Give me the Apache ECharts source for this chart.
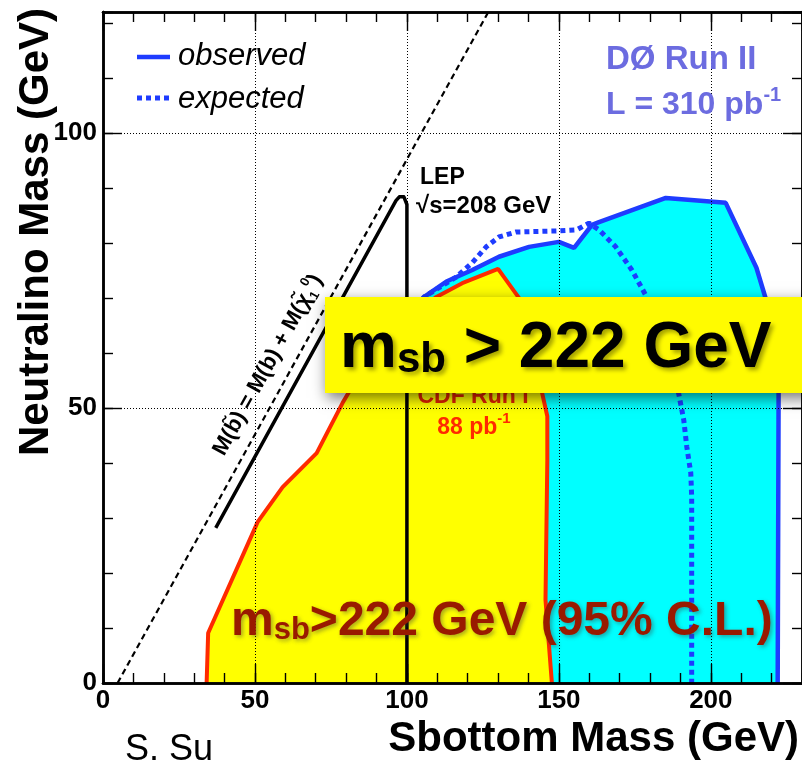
<!DOCTYPE html>
<html>
<head>
<meta charset="utf-8">
<script src="https://cdn.jsdelivr.net/npm/echarts@6/dist/echarts.min.js"></script>
<style>
  html, body { margin: 0; padding: 0; background: #ffffff; }
  #chart { width: 802px; height: 767px; }
</style>
</head>
<body>
<div id="chart"></div>
<script>
// Axis ranges and tick steps (GeV)
const xRange = [0, 230];
const yRange = [0, 122];
const majorStep = 50;
const minorStep = 10;

// LEP kinematic limit, sqrt(s) = 208 GeV  [sbottom mass, neutralino mass]
const lepLimit = [[37.1, 28.2], [96.4, 87.7], [97.5, 88.4], [99.0, 88.4], [100.0, 87.0], [100.0, 0.0]];

// M(sbottom) = M(b) + M(neutralino)
const kinematicEdge = [[4.8, 0], [126.8, 122]];

// CDF Run I excluded region (88 pb^-1)
const cdfRun1 = [
  [34.1, 0.0], [34.6, 9.1], [50.9, 29.3], [59.1, 35.6], [70.3, 41.8], [78.8, 50.9],
  [88.0, 59.5], [100.0, 65.8], [109.7, 70.2], [118.2, 72.7], [130.0, 75.3], [139.0, 68.4],
  [144.5, 52.7], [146.2, 48.5], [146.2, 40.5], [145.6, 15.1], [147.7, 0.0]
];

// DØ Run II observed limit (310 pb^-1)
const d0Observed = [
  [100.0, 66.5], [105.7, 70.2], [113.0, 73.0], [121.5, 75.1], [130.3, 77.5], [140.2, 79.3],
  [150.0, 80.2], [155.0, 79.1], [160.9, 83.3], [163.2, 83.8], [185.2, 88.2], [204.9, 87.3],
  [215.0, 75.5], [218.0, 70.0], [222.3, 52.7], [222.0, 0.0]
];

// DØ Run II expected limit
const d0Expected = [
  [103.0, 68.5], [105.7, 70.2], [116.2, 73.8], [121.5, 76.4], [126.1, 79.3], [130.3, 81.1],
  [135.9, 82.0], [150.0, 82.2], [155.9, 82.4], [159.9, 83.6], [163.2, 82.4], [168.7, 79.3],
  [174.0, 75.1], [178.9, 70.2], [189.4, 52.7], [191.1, 47.8], [192.1, 42.9], [193.4, 38.2],
  [193.7, 33.8], [193.7, 0.0]
];

const FONT = '"Liberation Sans", Arial, Helvetica, sans-serif';
const BLUE = '#1e3cff';
const RED = '#ff2a00';
const DARKRED = '#991a00';
const D0 = '#6c6ce0';

function makeAxis(kind, position, step, tickLen, withLabels, withGrid, range) {
  return {
    type: 'value',
    position: position,
    min: range[0],
    max: range[1],
    interval: step,
    z: 10,
    axisLine: { show: true, onZero: false, lineStyle: { color: '#000', width: 2.5 } },
    axisTick: { show: true, inside: true, length: tickLen, lineStyle: { color: '#000', width: 1.4 } },
    axisLabel: {
      show: withLabels,
      showMaxLabel: false,
      margin: kind === 'x' ? 5 : 6,
      color: '#000',
      fontFamily: FONT,
      fontWeight: 'bold',
      fontSize: 26
    },
    splitLine: { show: withGrid, lineStyle: { color: '#000', width: 1, type: [1, 2] } },
    splitArea: { show: false }
  };
}

const chart = echarts.init(document.getElementById('chart'), null, { renderer: 'canvas' });

const shadowText = (color, font, lh, sc, sx) => ({
  font: font, fill: color, verticalAlign: 'bottom', lineHeight: lh,
  textShadowColor: sc, textShadowBlur: 4, textShadowOffsetX: sx, textShadowOffsetY: sx
});

const option = {
  animation: false,
  backgroundColor: '#ffffff',
  grid: { left: 103, top: 12, width: 700, height: 671, containLabel: false },
  xAxis: [
    makeAxis('x', 'bottom', majorStep, 19, true, true, xRange),
    makeAxis('x', 'bottom', minorStep, 10, false, false, xRange),
    makeAxis('x', 'top', majorStep, 19, false, false, xRange),
    makeAxis('x', 'top', minorStep, 10, false, false, xRange)
  ],
  yAxis: [
    makeAxis('y', 'left', majorStep, 19, true, true, yRange),
    makeAxis('y', 'left', minorStep, 10, false, false, yRange),
    makeAxis('y', 'right', majorStep, 19, false, false, yRange),
    makeAxis('y', 'right', minorStep, 10, false, false, yRange)
  ],
  series: [
    {
      name: 'observed', type: 'line', data: d0Observed, xAxisIndex: 0, yAxisIndex: 0,
      symbol: 'none', z: 2, silent: true,
      lineStyle: { color: BLUE, width: 4.5 },
      areaStyle: { color: '#00ffff', opacity: 1, origin: 'start' }
    },
    {
      name: 'expected', type: 'line', data: d0Expected, xAxisIndex: 0, yAxisIndex: 0,
      symbol: 'none', z: 3, silent: true,
      lineStyle: { color: BLUE, width: 5, type: [5, 4], cap: 'butt' }
    },
    {
      name: 'CDF Run I', type: 'line', data: cdfRun1, xAxisIndex: 0, yAxisIndex: 0,
      symbol: 'none', z: 4, silent: true,
      lineStyle: { color: RED, width: 4 },
      areaStyle: { color: '#ffff00', opacity: 1, origin: 'start' }
    },
    {
      name: 'LEP', type: 'line', data: lepLimit, xAxisIndex: 0, yAxisIndex: 0,
      symbol: 'none', z: 5, silent: true,
      lineStyle: { color: '#000', width: 3.5, join: 'round' }
    },
    {
      name: 'kinematic', type: 'line', data: kinematicEdge, xAxisIndex: 0, yAxisIndex: 0,
      symbol: 'none', z: 5, silent: true,
      lineStyle: { color: '#000', width: 2.2, type: [6, 4] }
    }
  ],
  graphic: [
    // legend
    { type: 'line', z: 100, shape: { x1: 137, y1: 57, x2: 170, y2: 57 }, style: { stroke: BLUE, lineWidth: 4.5 } },
    { type: 'text', z: 100, x: 178, y: 56, style: { text: 'observed', font: 'italic 31px ' + FONT, fill: '#000', verticalAlign: 'middle' } },
    { type: 'line', z: 100, shape: { x1: 137, y1: 98, x2: 170, y2: 98 }, style: { stroke: BLUE, lineWidth: 5, lineDash: [5, 4] } },
    { type: 'text', z: 100, x: 178, y: 99, style: { text: 'expected', font: 'italic 31px ' + FONT, fill: '#000', verticalAlign: 'middle' } },

    // experiment label
    { type: 'text', z: 100, x: 606, y: 60, style: { text: 'DØ Run II', font: 'bold 33px ' + FONT, fill: D0, verticalAlign: 'middle' } },
    { type: 'text', z: 100, x: 606, y: 103, style: {
        text: '{a|L = 310 pb}{s|-1}', verticalAlign: 'middle', fill: D0,
        rich: {
          a: { font: 'bold 32px ' + FONT, fill: D0, verticalAlign: 'bottom', lineHeight: 36 },
          s: { font: 'bold 20px ' + FONT, fill: D0, verticalAlign: 'top', lineHeight: 36 }
        } } },

    // LEP
    { type: 'text', z: 100, x: 420, y: 178, style: { text: 'LEP', font: 'bold 23px ' + FONT, fill: '#000', verticalAlign: 'middle' } },
    { type: 'text', z: 100, x: 416, y: 206, style: { text: '√s=208 GeV', font: 'bold 24px ' + FONT, fill: '#000', verticalAlign: 'middle' } },

    // kinematic edge label
    { type: 'text', z: 100, x: 268, y: 365, rotation: 61 * Math.PI / 180, style: {
        text: '{a|M(b\u0303) = M(b) + M(\u03C7\u0303}{b|1}{c|0}{a|)}',
        align: 'center', verticalAlign: 'middle',
        rich: {
          a: { font: 'bold 22px ' + FONT, fill: '#000', lineHeight: 28, verticalAlign: 'middle' },
          b: { font: 'bold 13px ' + FONT, fill: '#000', lineHeight: 28, verticalAlign: 'bottom' },
          c: { font: 'bold 13px ' + FONT, fill: '#000', lineHeight: 28, verticalAlign: 'top' }
        } } },

    // CDF label
    { type: 'text', z: 100, x: 473, y: 397, style: { text: 'CDF Run I', font: 'bold 23px ' + FONT, fill: '#e02200', align: 'center', verticalAlign: 'middle' } },
    { type: 'text', z: 100, x: 474, y: 425, style: {
        text: '{a|88 pb}{s|-1}', align: 'center', verticalAlign: 'middle',
        rich: {
          a: { font: 'bold 23px ' + FONT, fill: RED, verticalAlign: 'bottom', lineHeight: 28 },
          s: { font: 'bold 15px ' + FONT, fill: RED, verticalAlign: 'top', lineHeight: 28 }
        } } },

    // limit statement
    { type: 'text', z: 100, x: 231, y: 620, style: {
        text: '{m|m}{s|sb}{m|>222 GeV (95% C.L.)}', verticalAlign: 'middle',
        rich: {
          m: shadowText(DARKRED, 'bold 48px ' + FONT, 52, 'rgba(60,60,60,0.45)', 2),
          s: shadowText(DARKRED, 'bold 31px ' + FONT, 44, 'rgba(60,60,60,0.45)', 2)
        } } },

    // highlighted result box
    { type: 'rect', z: 110, shape: { x: 325, y: 297, width: 500, height: 96 },
      style: { fill: '#fffb00', shadowBlur: 14, shadowColor: 'rgba(0,0,0,0.55)', shadowOffsetX: 2, shadowOffsetY: 5 } },
    { type: 'text', z: 111, x: 340, y: 347, style: {
        text: '{m|m}{s|sb}{m| > 222 GeV}', verticalAlign: 'middle',
        rich: {
          m: shadowText('#000', 'bold 64px ' + FONT, 68, 'rgba(0,0,0,0.35)', 3),
          s: shadowText('#000', 'bold 42px ' + FONT, 58, 'rgba(0,0,0,0.35)', 3)
        } } },

    // axis titles
    { type: 'text', z: 100, x: 799, y: 739, style: { text: 'Sbottom Mass (GeV)', font: 'bold 42px ' + FONT, fill: '#000', align: 'right', verticalAlign: 'middle' } },
    { type: 'text', z: 100, x: 36, y: 8, rotation: Math.PI / 2, style: { text: 'Neutralino Mass (GeV)', font: 'bold 42px ' + FONT, fill: '#000', align: 'right', verticalAlign: 'middle' } },

    // author
    { type: 'text', z: 100, x: 125, y: 750, style: { text: 'S. Su', font: '36px ' + FONT, fill: '#000', verticalAlign: 'middle' } }
  ]
};

chart.setOption(option);
</script>
</body>
</html>
